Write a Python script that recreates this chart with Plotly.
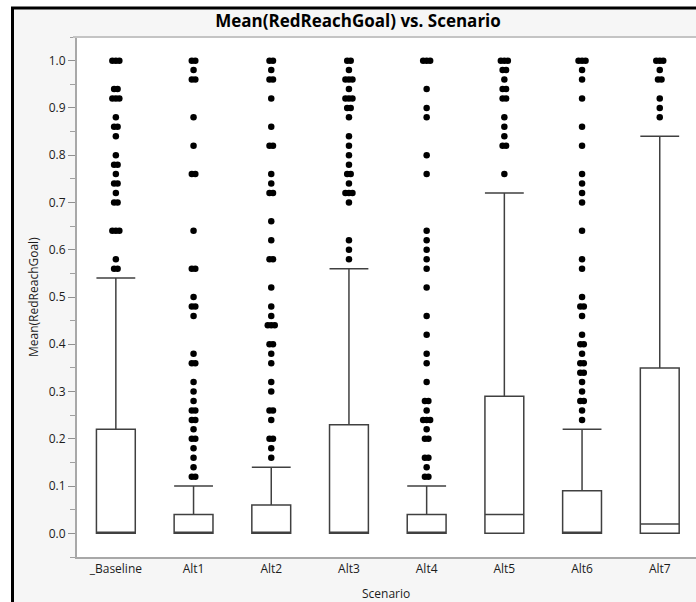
import plotly.graph_objects as go
from collections import Counter

categories = ["_Baseline", "Alt1", "Alt2", "Alt3", "Alt4", "Alt5", "Alt6", "Alt7"]

q1 = [0, 0, 0, 0, 0, 0, 0, 0]
median = [0, 0, 0, 0, 0, 0.04, 0, 0.02]
q3 = [0.22, 0.04, 0.06, 0.23, 0.04, 0.29, 0.09, 0.35]
lowerfence = [0, 0, 0, 0, 0, 0, 0, 0]
upperfence = [0.54, 0.10, 0.14, 0.56, 0.10, 0.72, 0.22, 0.84]

baseline_out = [1.0, 1.0, 1.0, 0.94, 0.94, 0.92, 0.92, 0.92, 0.88, 0.86, 0.86, 0.84, 0.80,
                0.78, 0.78, 0.76, 0.74, 0.74, 0.72, 0.70, 0.70, 0.64, 0.64, 0.64, 0.58, 0.56, 0.56]
alt1_out = [1.0, 1.0, 0.98, 0.96, 0.96, 0.88, 0.82, 0.76, 0.76, 0.64, 0.56, 0.56, 0.50, 0.48, 0.48,
            0.46, 0.38, 0.36, 0.36, 0.32, 0.30, 0.28, 0.26, 0.26, 0.24, 0.24, 0.22, 0.20, 0.20,
            0.18, 0.16, 0.14, 0.12, 0.12]
alt2_out = [1.0, 1.0, 0.98, 0.96, 0.96, 0.92, 0.86, 0.82, 0.82, 0.76, 0.74, 0.72, 0.72, 0.66, 0.62,
            0.58, 0.58, 0.52, 0.48, 0.46, 0.44, 0.44, 0.44, 0.40, 0.40, 0.38, 0.36, 0.32, 0.30,
            0.26, 0.26, 0.24, 0.20, 0.20, 0.18, 0.16]
alt3_out = [1.0, 1.0, 0.98, 0.96, 0.96, 0.96, 0.94, 0.92, 0.92, 0.92, 0.90, 0.90, 0.88, 0.84, 0.82,
            0.80, 0.78, 0.76, 0.76, 0.74, 0.72, 0.72, 0.72, 0.70, 0.62, 0.60, 0.58]
alt4_out = [1.0, 1.0, 1.0, 0.94, 0.90, 0.88, 0.80, 0.76, 0.64, 0.62, 0.60, 0.58, 0.56, 0.52, 0.46,
            0.42, 0.38, 0.36, 0.32, 0.28, 0.28, 0.26, 0.24, 0.24, 0.24, 0.22, 0.20, 0.20, 0.16,
            0.16, 0.14, 0.12, 0.12]
alt5_out = [1.0, 1.0, 1.0, 0.98, 0.98, 0.96, 0.94, 0.94, 0.92, 0.92, 0.88, 0.86, 0.84, 0.82, 0.82, 0.76]
alt6_out = [1.0, 1.0, 1.0, 0.98, 0.96, 0.92, 0.86, 0.82, 0.76, 0.74, 0.72, 0.70, 0.64, 0.58, 0.56,
            0.50, 0.48, 0.48, 0.46, 0.42, 0.40, 0.40, 0.38, 0.36, 0.36, 0.34, 0.34, 0.32, 0.30,
            0.28, 0.28, 0.26, 0.24]
alt7_out = [1.0, 1.0, 1.0, 0.98, 0.96, 0.96, 0.92, 0.90, 0.88]

outliers = [baseline_out, alt1_out, alt2_out, alt3_out, alt4_out, alt5_out, alt6_out, alt7_out]

yticks = [0.0, 0.1, 0.2, 0.3, 0.4, 0.5, 0.6, 0.7, 0.8, 0.9, 1.0]

# the chart continues past the right edge of the 696 px window, as in the cropped reference
W, H = 724, 602
ML, MR, MT, MB = 77, 0, 37, 45
FONT = "Open Sans"
TXT = "#1c1c1c"

fig = go.Figure()

fig.add_trace(go.Box(
    x=list(range(len(categories))), q1=q1, median=median, q3=q3,
    lowerfence=lowerfence, upperfence=upperfence,
    width=0.5, whiskerwidth=1, boxpoints=False,
    fillcolor="white", line=dict(color="#404040", width=1.5),
    hoverinfo="skip", showlegend=False,
))

# outlier dots, duplicates spread side by side
step = 0.045
px, py = [], []
for i, vals in enumerate(outliers):
    cnt = Counter(vals)
    for v, n in cnt.items():
        for k in range(n):
            px.append(i + (k - (n - 1) / 2) * step)
            py.append(v)
fig.add_trace(go.Scatter(
    x=px, y=py, mode="markers",
    marker=dict(color="black", size=6.5, line=dict(width=0)),
    hoverinfo="skip", showlegend=False,
))

PW = W - ML - MR


def fx(p):  # figure pixel -> paper x
    return (p - ML) / PW


def fy(p):  # figure pixel (from top) -> paper y
    return 1 - (p - MT) / (H - MT - MB)


shapes = [
    # white strips outside the frame
    dict(type="rect", xref="paper", yref="paper", x0=fx(0), x1=fx(12), y0=fy(H), y1=fy(0),
         fillcolor="white", line=dict(width=0), layer="above"),
    dict(type="rect", xref="paper", yref="paper", x0=fx(0), x1=fx(W), y0=fy(7), y1=fy(0),
         fillcolor="white", line=dict(width=0), layer="above"),
    # black frame lines
    dict(type="line", xref="paper", yref="paper", x0=fx(12.5), x1=fx(12.5), y0=fy(H), y1=fy(7),
         line=dict(color="black", width=3), layer="above"),
    dict(type="line", xref="paper", yref="paper", x0=fx(11), x1=fx(W), y0=fy(8), y1=fy(8),
         line=dict(color="black", width=3), layer="above"),
    # title band bottom line
    dict(type="line", xref="paper", yref="paper", x0=fx(73), x1=fx(W), y0=1, y1=1,
         line=dict(color="#c4c4c4", width=2), layer="above"),
]

annotations = [
    dict(text="Mean(RedReachGoal)", xref="paper", yref="paper", x=fx(33), y=0.5,
         textangle=-90, showarrow=False, font=dict(family=FONT, size=12, color=TXT),
         xanchor="center", yanchor="middle"),
    dict(text="Scenario", xref="paper", yref="paper", x=fx(386), y=fy(593),
         showarrow=False, font=dict(family=FONT, size=12, color=TXT),
         xanchor="center", yanchor="middle"),
]

fig.update_layout(
    width=W, height=H,
    margin=dict(l=ML, r=MR, t=MT, b=MB),
    paper_bgcolor="#f6f6f6", plot_bgcolor="white",
    title=dict(text="<b>Mean(RedReachGoal) vs. Scenario</b>", x=358 / W, xref="container",
               xanchor="center", y=1 - 21 / H, yref="container", yanchor="middle",
               font=dict(family=FONT, size=17, color="black")),
    font=dict(family=FONT, size=12, color=TXT),
    shapes=shapes, annotations=annotations,
    showlegend=False,
)

x_right = -0.5 + PW / 77.7
fig.update_xaxes(
    range=[-0.5, x_right], tickmode="array", tickvals=list(range(len(categories))),
    ticktext=categories, ticks="", showgrid=False, zeroline=False,
    showline=True, linecolor="#a8a8a8", linewidth=2, mirror=False,
    tickfont=dict(family=FONT, size=12, color=TXT),
)
fig.update_yaxes(
    range=[-0.05, 1.05], tickmode="array", tickvals=yticks,
    ticktext=[f"{v:.1f}" for v in yticks],
    ticks="outside", ticklen=7, tickwidth=1, tickcolor="#909090",
    minor=dict(tickmode="linear", tick0=0, dtick=0.05, ticks="outside", ticklen=5,
               tickcolor="#a0a0a0", tickwidth=1),
    showgrid=False, zeroline=False,
    showline=True, linecolor="#a8a8a8", linewidth=2,
    tickfont=dict(family=FONT, size=12, color=TXT),
)

fig.write_html(
    "out.html",
    config={"displayModeBar": False},
    post_script="document.body.style.margin='0px';document.body.style.overflow='hidden';",
)
